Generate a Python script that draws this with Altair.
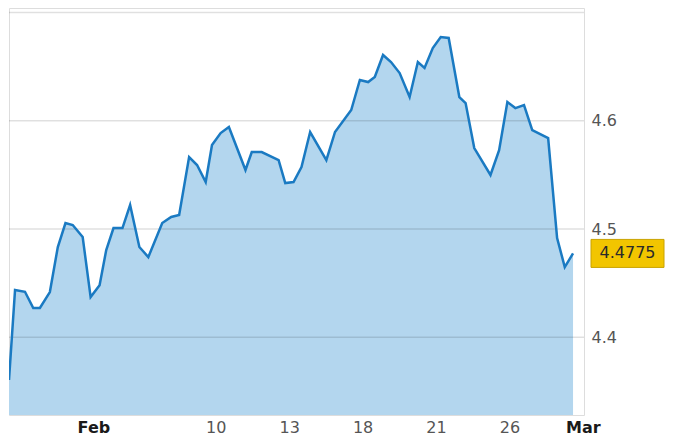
import altair as alt
import pandas as pd

# trading-day position (0 = Feb 3) and yield value
t_vals = [-3.45, -3.203, -2.797, -2.459, -2.187, -1.780, -1.455, -1.142, -0.846, -0.439,
          -0.114, 0.252, 0.524, 0.821, 1.187, 1.500, 1.878, 2.244, 2.813, 3.179,
          3.504, 3.911, 4.236, 4.589, 4.846, 5.199, 5.537, 6.215, 6.472, 6.878,
          7.569, 7.841, 8.179, 8.504, 8.858, 9.520, 9.874, 10.537, 10.890, 11.228,
          11.500, 11.837, 12.163, 12.516, 12.923, 13.260, 13.533, 13.870, 14.195, 14.520,
          14.955, 15.211, 15.565, 16.228, 16.581, 16.919, 17.244, 17.598, 17.935, 18.585,
          18.951, 19.264, 19.602]
yields = [4.3606, 4.4437, 4.4421, 4.4271, 4.4271, 4.4418, 4.4834, 4.5055, 4.5037, 4.4926,
          4.4372, 4.4482, 4.4806, 4.5009, 4.5009, 4.5222, 4.4834, 4.4741, 4.5055, 4.5111,
          4.5129, 4.5665, 4.5591, 4.5434, 4.5776, 4.5886, 4.5942, 4.5545, 4.5711, 4.5711,
          4.5637, 4.5425, 4.5434, 4.5572, 4.5896, 4.5637, 4.5896, 4.6099, 4.6376, 4.6357,
          4.6404, 4.6607, 4.6542, 4.6440, 4.6219, 4.6542, 4.6487, 4.6671, 4.6773, 4.6764,
          4.6219, 4.6163, 4.5748, 4.5499, 4.5729, 4.6173, 4.6117, 4.6145, 4.5914, 4.5840,
          4.4917, 4.4649, 4.4775]

grid_vals = [4.4, 4.5, 4.6, 4.7]
y_ticks = [4.4, 4.5, 4.6]
tick_pos = [0, 5, 8, 11, 14, 17, 20]
tick_labels = ["Feb", "10", "13", "18", "21", "26", "Mar"]
bold_labels = ["Feb", "Mar"]
last_label = "4.4775"

df = pd.DataFrame({"t": t_vals, "v": yields})
grid_df = pd.DataFrame({"g": grid_vals})
last_df = pd.DataFrame({"v": [yields[-1]], "label": [last_label]})

label_expr = ""
for p, lab in zip(tick_pos, tick_labels):
    label_expr += f"datum.value == {p} ? '{lab}' : "
label_expr += "''"
bold_test = " || ".join(f"datum.value == {p}" for p, lab in zip(tick_pos, tick_labels) if lab in bold_labels)

xs = alt.Scale(domain=[-3.45, 20.05], nice=False, zero=False)
ys = alt.Scale(domain=[4.3283, 4.7041], nice=False, zero=False)

x_axis = alt.Axis(
    values=tick_pos, labelExpr=label_expr, title=None, grid=False, ticks=False, domain=False,
    labelFlush=False, labelOverlap=False, labelPadding=4, labelFontSize=16, labelFont="DejaVu Sans",
    labelFontWeight={"condition": {"test": bold_test, "value": "bold"}, "value": "normal"},
    labelColor={"condition": {"test": bold_test, "value": "#1a1a1a"}, "value": "#555555"},
)
y_axis = alt.Axis(
    values=y_ticks, orient="right", title=None, grid=False, ticks=False, domain=False,
    labelPadding=7, labelFontSize=16, labelFont="DejaVu Sans", labelColor="#555555",
    format=".1f",
)

area = alt.Chart(df).mark_area(color="#b3d6ee", clip=True).encode(
    x=alt.X("t:Q", scale=xs, axis=x_axis),
    y=alt.Y("v:Q", scale=ys, axis=y_axis),
)
grid = alt.Chart(grid_df).mark_rule(color="black", opacity=0.12, strokeWidth=1.5).encode(
    y=alt.Y("g:Q", scale=ys)
)
line = alt.Chart(df).mark_line(color="#1a7ac2", strokeWidth=2.5, clip=True).encode(
    x=alt.X("t:Q", scale=xs),
    y=alt.Y("v:Q", scale=ys),
)
box = alt.Chart(last_df).mark_rect(
    fill="#f2c500", stroke="#c9a200", strokeWidth=1, yOffset=-14, y2Offset=14
).encode(
    x=alt.value(582), x2=alt.value(655),
    y=alt.Y("v:Q", scale=ys), y2=alt.Y2("v"),
)
box_text = alt.Chart(last_df).mark_text(
    font="DejaVu Sans", fontSize=16, color="#2a2a2a", align="center", baseline="middle"
).encode(
    x=alt.value(618.5), y=alt.Y("v:Q", scale=ys), text="label:N"
)

chart = alt.layer(area, grid, line, box, box_text).properties(
    width=575, height=407,
    padding={"left": 0, "top": 0, "right": 0, "bottom": 0},
).configure_view(stroke="#dcdcdc", strokeWidth=1.5).configure(background="white")

chart.save("out.html", embed_options={"renderer": "svg", "actions": False})
